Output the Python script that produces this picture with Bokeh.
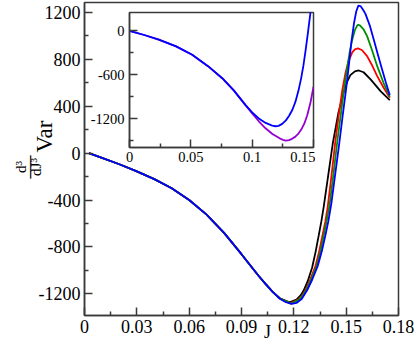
import numpy as np
from bokeh.plotting import figure
from bokeh.models import FixedTicker, Label, GridBox
from bokeh.embed import file_html
from bokeh.resources import INLINE

FONT = "'Liberation Serif', 'Times New Roman', serif"
AX = "#3a3a3a"

# ---------------- main panel data ----------------
x_ticks = [0, 0.03, 0.06, 0.09, 0.12, 0.15, 0.18]
x_tick_labels = ["0", "0.03", "0.06", "0.09", "0.12", "0.15", "0.18"]
x_minor = [0.015, 0.045, 0.075, 0.105, 0.135, 0.165]
y_ticks = [-1200, -800, -400, 0, 400, 800, 1200]
y_tick_labels = ["-1200", "-800", "-400", "0", "400", "800", "1200"]
y_minor = [-1000, -600, -200, 200, 600, 1000]

# common part of the four curves
J_shared = [0.0025, 0.01, 0.02, 0.03, 0.04, 0.05, 0.06, 0.07, 0.08, 0.09, 0.096, 0.1, 0.104, 0.108]
V_shared = [0, -40, -95, -155, -222, -300, -400, -525, -680, -862, -975, -1050, -1120, -1185]

J_black = [0.112, 0.1175, 0.1215, 0.124, 0.1257, 0.128, 0.1305, 0.1325, 0.1343, 0.1358, 0.1371,
           0.1395, 0.1423, 0.1455, 0.1486, 0.1506, 0.1524, 0.155, 0.1572, 0.16, 0.164, 0.1668,
           0.1697, 0.1725, 0.175]
V_black = [-1238, -1272, -1250, -1212, -1170, -1090, -975, -840, -700, -580, -460,
           -210, 80, 340, 520, 610, 665, 698, 705, 690, 629, 580,
           529, 488, 452]

J_red = [0.112, 0.1178, 0.1225, 0.1248, 0.1266, 0.1295, 0.1324, 0.1345, 0.1366, 0.1381, 0.1394,
         0.1416, 0.1438, 0.1458, 0.1477, 0.1497, 0.1515, 0.1535, 0.155, 0.1567, 0.159, 0.162,
         0.165, 0.1678, 0.1714, 0.175]
V_red = [-1240, -1282, -1250, -1215, -1170, -1075, -963, -840, -690, -580, -460,
         -190, 100, 330, 530, 690, 790, 860, 885, 893, 880, 827,
         745, 657, 560, 472]

J_green = [0.112, 0.1185, 0.123, 0.1252, 0.127, 0.13, 0.1331, 0.1352, 0.1373, 0.1388, 0.1404,
           0.1427, 0.145, 0.147, 0.1488, 0.1505, 0.152, 0.1535, 0.155, 0.1563, 0.157, 0.158,
           0.16, 0.162, 0.1648, 0.1678, 0.1714, 0.175]
V_green = [-1240, -1284, -1250, -1212, -1170, -1075, -963, -840, -690, -580, -450,
           -180, 110, 340, 543, 720, 860, 970, 1050, 1088, 1095, 1088,
           1055, 998, 880, 742, 600, 481]

J_blue = [0.112, 0.1155, 0.1188, 0.1215, 0.1245, 0.1276, 0.1305, 0.1337, 0.136, 0.1381, 0.1398,
          0.1415, 0.1438, 0.1461, 0.148, 0.15, 0.1515, 0.153, 0.1545, 0.1558, 0.157, 0.1582,
          0.1596, 0.161, 0.1635, 0.1658, 0.1682, 0.1706, 0.1728, 0.175]
V_blue = [-1242, -1272, -1285, -1278, -1245, -1170, -1080, -963, -840, -700, -580,
          -430, -170, 90, 320, 550, 745, 950, 1110, 1210, 1258, 1255,
          1225, 1190, 1090, 970, 840, 714, 600, 495]

# ---------------- inset data ----------------
ix_ticks = [0, 0.05, 0.1, 0.15]
ix_tick_labels = ["0", "0.05", "0.1", "0.15"]
ix_minor = [0.025, 0.075, 0.125]
iy_ticks = [-1200, -600, 0]
iy_tick_labels = ["-1200", "-600", "0"]
iy_minor = [-1500, -900, -300]

Ji_shared = [0, 0.012, 0.0239, 0.038, 0.0511, 0.064, 0.0756, 0.085, 0.0946]
Vi_shared = [0, -55, -119, -210, -325, -480, -645, -810, -1012]

Ji_blue = [0.1, 0.1054, 0.111, 0.1163, 0.119, 0.1215, 0.1245, 0.1275, 0.13, 0.1328, 0.1353,
           0.1378, 0.14, 0.1418, 0.1435, 0.1455, 0.1476, 0.149]
Vi_blue = [-1110, -1194, -1255, -1292, -1300, -1295, -1268, -1220, -1160, -1075, -965,
           -810, -640, -470, -270, -20, 260, 450]

Ji_purple = [0.1, 0.1054, 0.1109, 0.1165, 0.1224, 0.125, 0.1275, 0.13, 0.1325, 0.135, 0.1375,
             0.14, 0.1425, 0.1449, 0.1475, 0.15]
Vi_purple = [-1125, -1232, -1328, -1405, -1465, -1485, -1495, -1490, -1472, -1445, -1405,
             -1345, -1265, -1150, -980, -760]

# ---------------- main figure ----------------
X0, X1 = 0, 0.18
Y0, Y1 = -1385, 1285
FL, FR, FT, FB = 84, 398, 2, 315  # frame edges in page pixels
W, H = 415, 341

fig = figure(width=W, height=H, x_range=(X0, X1), y_range=(Y0, Y1),
             output_backend="svg", toolbar_location=None,
             min_border_left=FL, min_border_right=W - FR,
             min_border_top=FT, min_border_bottom=H - FB)
fig.frame_align = False
fig.xgrid.visible = False
fig.ygrid.visible = False
fig.background_fill_color = "white"
fig.border_fill_color = "white"
fig.outline_line_color = AX
fig.outline_line_width = 1.5


def style_axis(ax, ticks, minor, labels, size, standoff, tin, tmin):
    ax.ticker = FixedTicker(ticks=ticks, minor_ticks=minor)
    ax.major_label_overrides = dict(zip(ticks, labels))
    ax.axis_line_color = AX
    ax.axis_line_width = 1.5
    ax.major_tick_line_color = AX
    ax.minor_tick_line_color = AX
    ax.major_tick_line_width = 1.5
    ax.minor_tick_line_width = 1.5
    ax.major_tick_in = tin
    ax.major_tick_out = 0
    ax.minor_tick_in = tmin
    ax.minor_tick_out = 0
    ax.major_label_text_font = FONT
    ax.major_label_text_font_size = size
    ax.major_label_text_color = "black"
    ax.major_label_standoff = standoff


style_axis(fig.xaxis[0], x_ticks, x_minor, x_tick_labels, "18px", 4, 8, 4)
style_axis(fig.yaxis[0], y_ticks, y_minor, y_tick_labels, "18px", 4, 8, 4)

for J_t, V_t, col in [(J_black, V_black, "#000000"), (J_red, V_red, "#ff0000"),
                      (J_green, V_green, "#008f00"), (J_blue, V_blue, "#0000ff")]:
    fig.line(J_shared + J_t, V_shared + V_t, line_color=col, line_width=1.8)

# ---------------- inset figure (same top-left corner as the main one) ----------------
IL, IR, IT, IB = 129, 313, 12, 147
ins = figure(width=IR + 2, height=IB + 22,
             x_range=(0, 0.15), y_range=(-1590, 252),
             output_backend="svg", toolbar_location=None,
             min_border_left=IL, min_border_right=2,
             min_border_top=IT, min_border_bottom=22)
ins.frame_align = False
ins.xgrid.visible = False
ins.ygrid.visible = False
ins.background_fill_color = "white"
ins.border_fill_alpha = 0
ins.outline_line_color = AX
ins.outline_line_width = 1.5
style_axis(ins.xaxis[0], ix_ticks, ix_minor, ix_tick_labels, "14.5px", 4, 8, 4)
style_axis(ins.yaxis[0], iy_ticks, iy_minor, iy_tick_labels, "14.5px", 5, 8, 4)

ins.line(Ji_shared + Ji_purple, Vi_shared + Vi_purple, line_color="#9400d3", line_width=1.8)
ins.line(Ji_shared + Ji_blue, Vi_shared + Vi_blue, line_color="#0000ff", line_width=1.8)

# ---------------- transparent overlay for the axis titles (page pixel coords) ----------------
ov = figure(width=W, height=H, x_range=(0, W), y_range=(H, 0),
            x_axis_type=None, y_axis_type=None, title=None,
            output_backend="svg", toolbar_location=None, min_border=0)
ov.frame_align = False
ov.grid.visible = False
ov.outline_line_color = None
ov.background_fill_alpha = 0
ov.border_fill_alpha = 0


def lab(x, y, text, size, align="center", angle=0.0):
    ov.add_layout(Label(x=x, y=y, text=text, angle=angle,
                        text_align=align, text_baseline="alphabetic",
                        text_font=FONT, text_font_size=size, text_color="black"))


lab(44, 152, "Var", "23px", align="left", angle=np.pi / 2)
lab(20, 166.5, "d³", "15px", angle=np.pi / 2)
lab(35, 166.5, "dJ³", "15px", angle=np.pi / 2)
lab(28, 166.5, "—", "23px", angle=np.pi / 2)
lab(267, 331, "J", "18px")

p = GridBox(children=[(fig, 0, 0), (ins, 0, 0), (ov, 0, 0)])

open("out.html", "w").write(file_html(p, INLINE))
